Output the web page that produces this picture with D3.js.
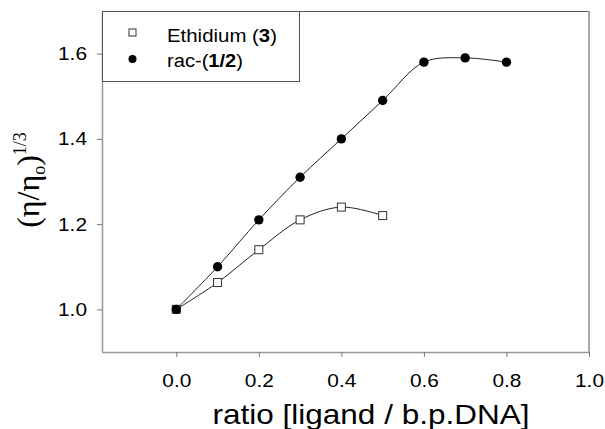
<!DOCTYPE html>
<html>
<head>
<meta charset="utf-8">
<script src="https://cdn.jsdelivr.net/npm/d3@7"></script>
<style>
	body { margin: 0; background: #fff; }
	svg { font-family: Arial, "Liberation Sans", sans-serif; }
</style>
</head>
<body>
<div id="viscosity-chart"></div>
<script>
	// ratio [ligand / b.p.DNA]
	var ethidiumRatio = [0.0, 0.1, 0.2, 0.3, 0.4, 0.5];
	var ethidiumValues = [1.0, 1.063, 1.14, 1.21, 1.24, 1.22];

	var racRatio = [0.0, 0.1, 0.2, 0.3, 0.4, 0.5, 0.6, 0.7, 0.8];
	var racValues = [1.0, 1.10, 1.21, 1.31, 1.40, 1.49, 1.58, 1.59, 1.58];

	var xTicks = [0.0, 0.2, 0.4, 0.6, 0.8, 1.0];
	var yTicks = [1.0, 1.2, 1.4, 1.6];

	var margin = {
			top: 11,
			right: 16,
			bottom: 77,
			left: 102
		},
		width = 605 - margin.left - margin.right,
		height = 429 - margin.top - margin.bottom;

	var xScale = d3.scaleLinear()
		.domain([-0.18, 1.0])
		.range([0, width]);

	var yScale = d3.scaleLinear()
		.domain([0.9, 1.7])
		.range([height, 0]);

	var svg = d3.select("#viscosity-chart").append("svg")
		.attr("width", 605)
		.attr("height", 429)
		.append("g")
		.attr("transform", "translate(" + margin.left + "," + margin.top + ")");

	var xAxis = d3.axisBottom()
		.scale(xScale)
		.tickValues(xTicks)
		.tickSizeInner(5)
		.tickSizeOuter(0)
		.tickPadding(17)
		.tickFormat(d3.format(".1f"));

	var yAxis = d3.axisLeft()
		.scale(yScale)
		.tickValues(yTicks)
		.tickSizeInner(5)
		.tickSizeOuter(0)
		.tickPadding(10)
		.tickFormat(d3.format(".1f"));

	// top and right frame lines
	svg.append("line")
		.style("stroke", "#555")
		.style("stroke-width", "1px")
		.attr("x1", 0)
		.attr("y1", 0.5)
		.attr("x2", width)
		.attr("y2", 0.5);

	svg.append("line")
		.style("stroke", "#a8a8a8")
		.style("stroke-width", "2px")
		.attr("x1", width)
		.attr("y1", 0)
		.attr("x2", width)
		.attr("y2", height);

	var gx = svg.append("g")
		.attr("class", "x axis")
		.attr("transform", "translate(0," + height + ")")
		.call(xAxis);

	var gy = svg.append("g")
		.attr("class", "y axis")
		.call(yAxis);

	// the original lettering is a bit wider than Arial, stretch it
	[gx, gy].forEach(function(g) {
		g.select(".domain").style("stroke", "#999").style("stroke-width", "1.5px");
		g.selectAll(".tick line").style("stroke", "#777");
		g.selectAll(".tick text")
			.style("font-size", "19px")
			.style("fill", "#000")
			.style("font-family", "Arial, 'Liberation Sans', sans-serif")
			.attr("textLength", 29)
			.attr("lengthAdjust", "spacingAndGlyphs");
	});

	var line = d3.line()
		.x(function(d) { return xScale(d.x); })
		.y(function(d) { return yScale(d.y); })
		.curve(d3.curveCatmullRom.alpha(0.5));

	var ethidiumData = ethidiumRatio.map(function(r, i) {
		return { x: r, y: ethidiumValues[i] };
	});
	var racData = racRatio.map(function(r, i) {
		return { x: r, y: racValues[i] };
	});

	svg.append("path")
		.datum(ethidiumData)
		.attr("d", line)
		.style("fill", "none")
		.style("stroke", "#222")
		.style("stroke-width", "1px");

	svg.append("path")
		.datum(racData)
		.attr("d", line)
		.style("fill", "none")
		.style("stroke", "#222")
		.style("stroke-width", "1px");

	// open squares - ethidium
	var sq = 8;
	svg.selectAll(".ethidium")
		.data(ethidiumData)
		.enter()
		.append("rect")
		.attr("class", "ethidium")
		.attr("x", function(d) { return xScale(d.x) - sq / 2; })
		.attr("y", function(d) { return yScale(d.y) - sq / 2; })
		.attr("width", sq)
		.attr("height", sq)
		.style("fill", "#fff")
		.style("stroke", "#333")
		.style("stroke-width", "1px");

	// filled circles - rac
	svg.selectAll(".rac")
		.data(racData)
		.enter()
		.append("circle")
		.attr("class", "rac")
		.attr("cx", function(d) { return xScale(d.x); })
		.attr("cy", function(d) { return yScale(d.y); })
		.attr("r", 4.7)
		.style("fill", "#000");

	// legend box
	var legend = svg.append("g").attr("class", "legend");

	legend.append("rect")
		.attr("x", 0.5)
		.attr("y", 0.5)
		.attr("width", 197)
		.attr("height", 70)
		.style("fill", "#fff")
		.style("stroke", "#555")
		.style("stroke-width", "1px");

	legend.append("rect")
		.attr("x", 27)
		.attr("y", 18)
		.attr("width", 7)
		.attr("height", 7)
		.style("fill", "#fff")
		.style("stroke", "#333")
		.style("stroke-width", "1px");

	legend.append("circle")
		.attr("cx", 30.5)
		.attr("cy", 48)
		.attr("r", 4)
		.style("fill", "#000");

	var t1 = legend.append("text")
		.attr("x", 65)
		.attr("y", 31)
		.attr("textLength", 110)
		.attr("lengthAdjust", "spacingAndGlyphs")
		.style("font-size", "18px");
	t1.append("tspan").text("Ethidium (");
	t1.append("tspan").style("font-weight", "bold").text("3");
	t1.append("tspan").text(")");

	var t2 = legend.append("text")
		.attr("x", 65)
		.attr("y", 56)
		.attr("textLength", 76)
		.attr("lengthAdjust", "spacingAndGlyphs")
		.style("font-size", "18px");
	t2.append("tspan").text("rac-(");
	t2.append("tspan").style("font-weight", "bold").text("1/2");
	t2.append("tspan").text(")");

	// axis titles
	svg.append("text")
		.attr("x", 269)
		.attr("y", height + 72)
		.attr("textLength", 317)
		.attr("lengthAdjust", "spacingAndGlyphs")
		.style("text-anchor", "middle")
		.style("font-size", "28px")
		.text("ratio [ligand / b.p.DNA]");

	var yTitle = svg.append("text")
		.attr("transform", "translate(-63," + 169 + ") rotate(-90)")
		.style("text-anchor", "middle")
		.style("font-size", "32px")
		.style("font-family", "'Liberation Serif', 'DejaVu Serif', serif");
	yTitle.append("tspan").text("(η/η");
	yTitle.append("tspan").attr("dy", 6).style("font-size", "18px").text("o");
	yTitle.append("tspan").attr("dy", -6).text(")");
	yTitle.append("tspan").attr("dy", -13).style("font-size", "18px").text("1/3");
</script>
</body>
</html>
